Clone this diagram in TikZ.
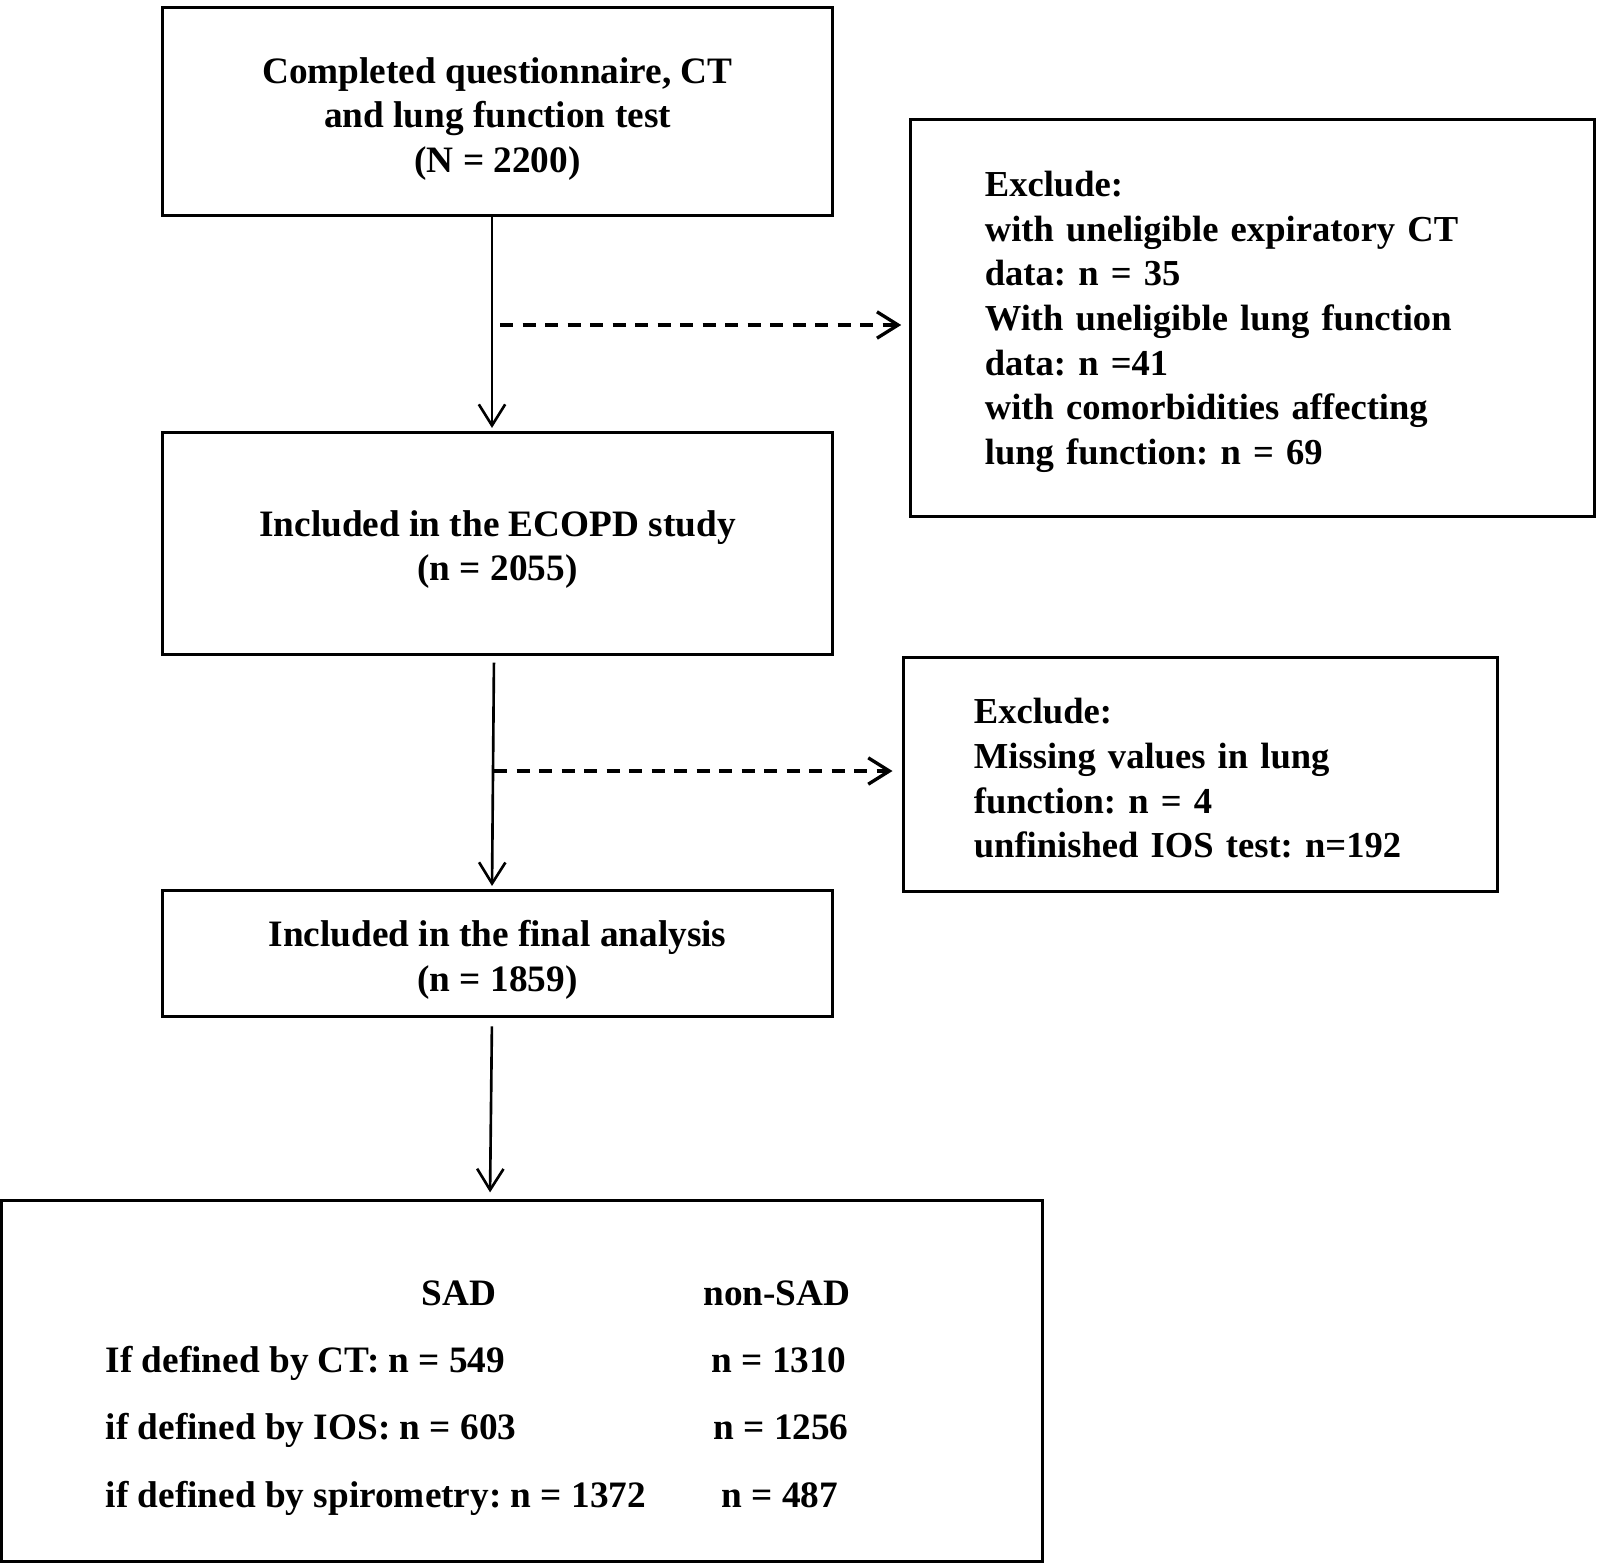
\documentclass[tikz,border=0pt]{standalone}
\usepackage{fontspec}
\setmainfont{Liberation Serif}
\usetikzlibrary{arrows.meta,positioning}
\frenchspacing

\begin{document}
\begin{tikzpicture}[x=0.01cm,y=-0.01cm,
  box/.style={draw, line width=0.85pt, inner sep=0pt},
  lbl/.style={inner sep=0pt, font=\fontsize{10.6}{12.7}\selectfont\bfseries},
  txt/.style={lbl, align=center},
  excl/.style={lbl, align=left, font=\fontsize{10.4}{12.7}\selectfont\bfseries},
  arr/.style={line width=0.75pt, -{Straight Barb[length=6pt,width=7.5pt]}},
  dasharr/.style={arr, line width=0.95pt, dash pattern=on 3.7pt off 2.7pt}]

\useasboundingbox (0,0) rectangle (1600,1563);

% Boxes
\node[box, minimum width=6.69cm, minimum height=2.07cm] (comp) at (497.5,111.5) {};
\node[box, minimum width=6.83cm, minimum height=3.96cm] (ex1) at (1252.5,318) {};
\node[box, minimum width=6.69cm, minimum height=2.21cm] (ecopd) at (497.5,543.5) {};
\node[box, minimum width=5.93cm, minimum height=2.33cm] (ex2) at (1200.5,774.5) {};
\node[box, minimum width=6.69cm, minimum height=1.25cm] (final) at (497.5,953.5) {};
\node[box, minimum width=10.4cm, minimum height=3.6cm] (res) at (522,1381) {};

% Texts
\node[txt] (compt) at ([yshift=-0.075cm]comp.center)
  {Completed questionnaire, CT\\and lung function test\\(N = 2200)};
\node[excl, text width=5.35cm] (ex1t) at ([yshift=-0.04cm]ex1.center)
  {Exclude:\\with uneligible expiratory CT\\data: n = 35\\With uneligible lung function\\data: n =41\\with comorbidities affecting\\lung function: n = 69};
\node[txt] (ecopdt) at ([yshift=-0.06cm]ecopd.center)
  {Included in the ECOPD study\\(n = 2055)};
\node[excl, text width=4.53cm] (ex2t) at ([yshift=-0.04cm]ex2.center)
  {Exclude:\\Missing values in lung\\function: n = 4\\unfinished IOS test: n=192};
\node[txt] (finalt) at ([yshift=-0.06cm]final.center)
  {Included in the final analysis\\(n = 1859)};

% Table inside the last box
\node[lbl, anchor=base] (sad) at (459,1305) {SAD};
\node[lbl, anchor=base] (nonsad) at (777,1305) {non-SAD};
\node[lbl, anchor=base west] (ct) at (105,1372) {If defined by CT: n = 549};
\node[lbl, anchor=base] (ctn) at (779,1372) {n = 1310};
\node[lbl, anchor=base west] (ios) at (105,1439) {if defined by IOS: n = 603};
\node[lbl, anchor=base] (iosn) at (781,1439) {n = 1256};
\node[lbl, anchor=base west] (spi) at (105,1507) {if defined by spirometry: n = 1372};
\node[lbl, anchor=base] (spin) at (780,1507) {n = 487};

\coordinate (d1) at (500,325);
\coordinate (d2) at (494,771);

% Connect nodes
\draw[arr, shorten >=1pt] ([xshift=-0.055cm]comp.south) -- ([xshift=-0.055cm]ecopd.north);
\draw[arr, shorten <=2pt, shorten >=1pt] ([xshift=-0.035cm]ecopd.south) -- ([xshift=-0.055cm]final.north);
\draw[arr, shorten <=2.5pt, shorten >=2pt] ([xshift=-0.055cm]final.south) -- ([xshift=-0.32cm]res.north);
\draw[dasharr, shorten >=2.3pt] (d1) -- (d1 -| ex1.west);
\draw[dasharr, shorten >=2.8pt] (d2) -- (d2 -| ex2.west);

\end{tikzpicture}
\end{document}
